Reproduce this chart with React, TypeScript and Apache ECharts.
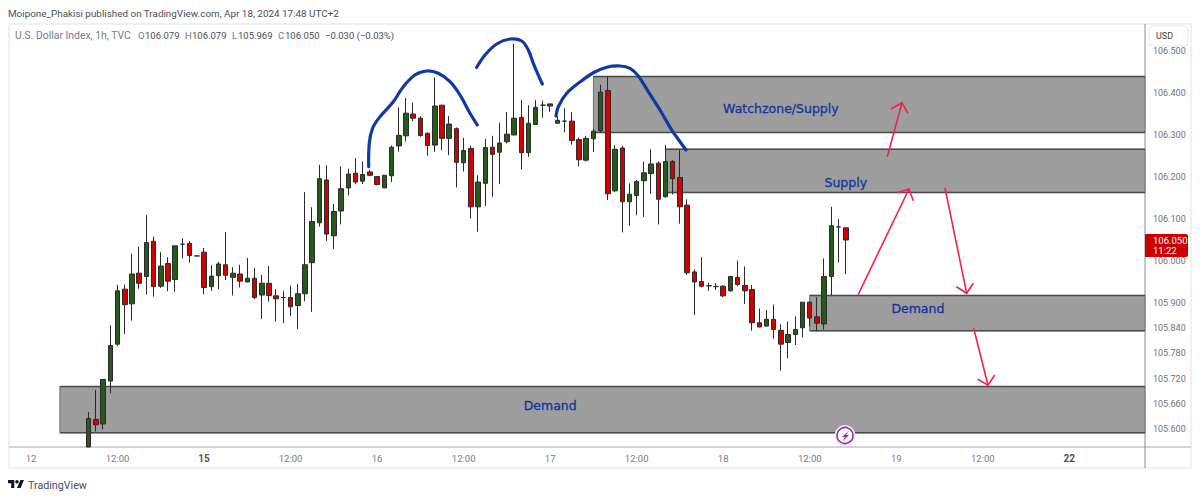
import React, { useEffect, useRef } from "react";
import * as echarts from "echarts";

const UI_FONT = "Roboto, sans-serif";
const NOTE_FONT = "'DejaVu Sans', sans-serif";

// Hourly bars, oldest first. The first bar sits at category index firstBarIndex.
const firstBarIndex = 11;
const opens = [
  105.557,105.623,105.612,105.714,105.802,105.933,105.898,105.971,105.963,106.047,
  105.940,105.994,105.956,106.040,106.042,106.012,106.021,105.939,105.965,105.991,
  105.961,105.969,105.950,105.959,105.919,105.947,105.917,105.913,105.913,105.894,
  105.922,105.996,106.091,106.193,106.060,106.119,106.174,106.209,106.190,106.212,
  106.201,106.174,106.203,106.274,106.298,106.350,106.340,106.304,106.276,106.371,
  106.292,106.315,106.234,106.268,106.129,106.185,106.271,106.259,106.284,106.300,
  106.342,106.258,106.325,106.371,106.369,106.328,106.333,106.333,106.289,106.240,
  106.291,106.310,106.406,106.167,106.269,106.141,106.156,106.191,106.208,106.233,
  106.153,106.237,106.199,106.133,105.974,105.951,105.941,105.939,105.940,105.929,
  105.961,105.942,105.932,105.853,105.845,105.861,105.835,105.806,105.825,105.841,
  105.902,105.867,105.850,105.963,106.081,106.079,
];
const closes = [
  105.625,105.610,105.718,105.799,105.929,105.896,105.969,105.947,106.044,105.939,
  105.988,105.952,106.036,106.040,106.013,106.012,105.937,105.964,105.993,105.966,
  105.971,105.952,105.959,105.913,105.947,105.918,105.910,105.913,105.891,105.922,
  105.991,106.094,106.196,106.064,106.118,106.172,106.207,106.188,106.206,106.204,
  106.182,106.204,106.271,106.299,106.352,106.340,106.299,106.275,106.369,106.292,
  106.326,106.235,106.263,106.129,106.188,106.270,106.254,106.281,106.302,106.340,
  106.258,106.328,106.366,106.371,106.374,106.335,106.333,106.287,106.241,106.292,
  106.309,106.402,106.160,106.266,106.141,106.159,106.189,106.210,106.231,106.147,
  106.237,106.196,106.129,105.972,105.950,105.940,105.941,105.939,105.917,105.963,
  105.944,105.929,105.853,105.843,105.861,105.837,105.802,105.825,105.837,105.902,
  105.864,105.852,105.963,106.084,106.081,106.050,
];
const lows = [
  105.557,105.594,105.599,105.685,105.798,105.826,105.858,105.934,105.920,105.915,
  105.936,105.928,105.927,106.006,105.996,106.012,105.921,105.929,105.933,105.955,
  105.918,105.937,105.950,105.909,105.862,105.903,105.856,105.852,105.869,105.838,
  105.904,105.879,106.082,106.048,106.029,106.087,106.156,106.183,106.183,106.202,
  106.180,106.174,106.188,106.260,106.285,106.333,106.296,106.251,106.260,106.264,
  106.252,106.175,106.213,106.101,106.070,106.131,106.153,106.183,106.280,106.300,
  106.218,106.248,106.325,106.341,106.355,106.328,106.306,106.277,106.225,106.237,
  106.260,106.306,106.145,106.164,106.068,106.084,106.109,106.105,106.160,106.087,
  106.151,106.158,106.089,105.967,105.871,105.937,105.929,105.931,105.914,105.927,
  105.940,105.898,105.834,105.842,105.844,105.815,105.739,105.768,105.800,105.818,
  105.844,105.833,105.837,105.919,105.996,105.969,
];
const highs = [
  105.640,105.693,105.718,105.847,105.943,105.944,106.017,106.034,106.109,106.058,
  106.021,106.009,106.036,106.054,106.047,106.012,106.031,105.990,105.998,106.069,
  105.985,105.991,106.007,105.983,105.967,105.988,105.933,105.928,105.941,105.945,
  106.164,106.128,106.229,106.228,106.136,106.225,106.220,106.245,106.237,106.217,
  106.202,106.204,106.275,106.366,106.388,106.377,106.345,106.306,106.437,106.371,
  106.345,106.318,106.293,106.275,106.204,106.291,106.298,106.329,106.355,106.517,
  106.383,106.371,106.383,106.382,106.374,106.345,106.364,106.354,106.294,106.298,
  106.315,106.420,106.439,106.276,106.274,106.185,106.193,106.237,106.266,106.237,
  106.276,106.240,106.264,106.147,105.980,106.009,105.948,105.947,105.942,105.963,
  106.001,105.987,105.943,105.887,105.883,105.896,105.849,105.856,105.868,105.902,
  105.903,105.914,106.006,106.129,106.100,106.079,
];

// Zones: category index of the left edge, top price, bottom price.
const zoneStarts = [81, 91, 111, 7];
const zoneTops = [106.439, 106.266, 105.918, 105.701];
const zoneBottoms = [106.306, 106.163, 105.834, 105.591];

const noteTexts = ["Watchzone/Supply", "Supply", "Demand", "Demand"];
const noteIndexes = [107, 116, 126, 75];
const notePrices = [106.364, 106.188, 105.886, 105.655];

const CATEGORY_COUNT = 158;
const firstTickIndex = 3;
const tickStep = 12;
const timeTicks = ["12", "12:00", "15", "12:00", "16", "12:00", "17", "12:00", "18", "12:00", "19", "12:00", "22"];
const boldTicks = ["15", "22"];
const priceTicks = [105.6, 105.66, 105.72, 105.78, 105.84, 105.9, 106.0, 106.1, 106.2, 106.3, 106.4, 106.5];
const PRICE_MIN = 105.5571;
const PRICE_MAX = 106.5643;

const categories: string[] = Array.from({ length: CATEGORY_COUNT }, (_, k) => {
  const n = (k - firstTickIndex) / tickStep;
  return Number.isInteger(n) && n >= 0 && n < timeTicks.length ? timeTicks[n] : "";
});

const barData: any[] = categories.map((_, k) => {
  const i = k - firstBarIndex;
  return i >= 0 && i < opens.length ? [opens[i], closes[i], lows[i], highs[i]] : "-";
});

// Hand-drawn annotations, traced in page pixels.
const blueCurves: number[][][] = [
  [[368.7,166.7],[369.3,143],[372.7,128],[380,116.7],[393.3,101.7],[403.3,86.7],[415,75],[426.7,71],[438.3,73.3],[450,81.7],[460,95],[470,113.3],[477.3,125]],
  [[476.7,67.3],[485,55],[496.7,44],[510,39],[521.7,41],[528.3,50],[533.3,63.3],[542.3,84]],
  [[556,116],[558.3,106.7],[566.7,93.3],[580,82],[593,73],[606.7,67.3],[620,66],[630,68.3],[638.3,76],[648.3,91.7],[660,110],[671.7,130],[680,141.7],[686,150]],
];
const redArrows: number[][][] = [
  [[887.3,156.7],[902,102.7]],
  [[858.3,294.3],[909,189]],
  [[945,188],[966.7,293.3]],
  [[973.7,328.3],[988,385.3]],
];
const redHeads: number[][][] = [
  [[891,109],[902,102.7],[908,113.3]],
  [[897.3,192.7],[909,189],[913.3,200.7]],
  [[956.3,286.7],[966.7,293.3],[973.3,283.3]],
  [[977.7,379.3],[988,385.3],[994.7,375]],
];
const boltPoints = [[848.5,431],[842,437],[845,437],[842.5,441.5],[849,435],[846,435]];

echarts.graphic.registerShape(
  "tvLogo",
  echarts.graphic.extendPath("M14 22H7V11H0V4h14v18zM28 22h-8l7.5-18h8L28 22z", {}) as any
);

function buildOption(): any {
  const text = (x: number, y: number, t: string, fill: string, size: number, extra: any = {}) => ({
    type: "text",
    x,
    y,
    z: 20,
    style: { text: t, fill, font: `${size}px ${UI_FONT}`, textVerticalAlign: "middle", ...extra },
  });
  const G = "#787b86";
  const D = "#4a4d57";
  const legend: [number, string, string, number][] = [
    [15, "U.S. Dollar Index, 1h, TVC", G, 10.4],
    [138, "O", G, 9.5], [145, "106.079", D, 9.5],
    [185, "H", G, 9.5], [192, "106.079", D, 9.5],
    [232, "L", G, 9.5], [238, "105.969", D, 9.5],
    [278, "C", G, 9.5], [285, "106.050", D, 9.5],
    [325, "−0.030 (−0.03%)", D, 9.5],
  ];
  return {
    animation: false,
    backgroundColor: "#ffffff",
    grid: { left: 5.8, top: 24, width: 1139.2, height: 423, containLabel: false },
    xAxis: {
      type: "category",
      data: categories,
      boundaryGap: true,
      axisLine: { show: false },
      axisTick: { show: false },
      splitLine: { show: false },
      axisLabel: {
        interval: 0,
        margin: 6,
        fontFamily: UI_FONT,
        fontSize: 9.5,
        color: G,
        formatter: (v: string) => (boldTicks.includes(v) ? `{b|${v}}` : v),
        rich: { b: { fontFamily: UI_FONT, fontSize: 10, fontWeight: "bold", color: "#50535e" } },
      },
    },
    yAxis: {
      type: "value",
      position: "right",
      min: PRICE_MIN,
      max: PRICE_MAX,
      axisLine: { show: false },
      axisTick: { show: false },
      splitLine: { show: false },
      axisLabel: {
        customValues: priceTicks,
        margin: 8,
        fontFamily: UI_FONT,
        fontSize: 9,
        color: "#6f727d",
        formatter: (v: number) => v.toFixed(3),
      },
    },
    series: [
      {
        type: "custom",
        z: 1,
        silent: true,
        encode: { x: 0, y: [1, 2] },
        data: zoneStarts.map((k, i) => [k, zoneTops[i], zoneBottoms[i]]),
        renderItem: (params: any, api: any) => {
          const [x, yTop] = api.coord([api.value(0), api.value(1)]);
          const [, yBot] = api.coord([api.value(0), api.value(2)]);
          const right = params.coordSys.x + params.coordSys.width;
          return {
            type: "group",
            children: [
              { type: "rect", shape: { x, y: yTop, width: right - x, height: yBot - yTop }, style: { fill: "#9e9e9e", stroke: "#707070", lineWidth: 1 } },
              { type: "line", shape: { x1: x, y1: yTop, x2: right, y2: yTop }, style: { stroke: "#4a4a4a", lineWidth: 1.5 } },
              { type: "line", shape: { x1: x, y1: yBot, x2: right, y2: yBot }, style: { stroke: "#4a4a4a", lineWidth: 1.5 } },
            ],
          };
        },
      },
      {
        type: "candlestick",
        z: 2,
        barWidth: 5,
        data: barData,
        itemStyle: {
          color: "#26591a",
          color0: "#d40000",
          borderColor: "#2a2a2a",
          borderColor0: "#2a2a2a",
          borderColorDoji: "#2a2a2a",
          borderWidth: 1,
        },
      },
      {
        type: "custom",
        z: 3,
        silent: true,
        encode: { x: 0, y: 1 },
        data: noteIndexes.map((k, i) => [k, notePrices[i]]),
        renderItem: (params: any, api: any) => {
          const [x, y] = api.coord([api.value(0), api.value(1)]);
          return {
            type: "text",
            x,
            y,
            style: {
              text: noteTexts[params.dataIndex],
              fill: "#14349a",
              stroke: "#14349a",
              lineWidth: 0.3,
              font: `12.5px ${NOTE_FONT}`,
              textAlign: "center",
              textVerticalAlign: "middle",
            },
          };
        },
      },
    ],
    graphic: [
      { type: "rect", z: -1, shape: { x: 9, y: 24, width: 1182, height: 444 }, style: { fill: "#ffffff", stroke: "#eef0f5", lineWidth: 2 } },
      { type: "line", z: 1, shape: { x1: 9, y1: 447, x2: 1191, y2: 447 }, style: { stroke: "#c4c6cc", lineWidth: 1.5 } },
      { type: "line", z: 1, shape: { x1: 1145, y1: 24, x2: 1145, y2: 468 }, style: { stroke: "#8a8d95", lineWidth: 1 } },
      ...blueCurves.map((pts) => ({
        type: "polyline",
        z: 10,
        shape: { points: pts, smooth: 0.35 },
        style: { fill: "none", stroke: "#0f3aa3", lineWidth: 3.2, lineCap: "round", lineJoin: "round" },
      })),
      ...redArrows.map((pts) => ({
        type: "polyline",
        z: 11,
        shape: { points: pts },
        style: { fill: "none", stroke: "#f2234b", lineWidth: 1.6 },
      })),
      ...redHeads.map((pts) => ({
        type: "polyline",
        z: 11,
        shape: { points: pts },
        style: { fill: "none", stroke: "#f2234b", lineWidth: 1.6 },
      })),
      { type: "circle", z: 12, shape: { cx: 845, cy: 435.5, r: 10 }, style: { fill: "#ffffff", stroke: "#e4e5ea", lineWidth: 1 } },
      { type: "circle", z: 13, shape: { cx: 845, cy: 435.5, r: 8 }, style: { fill: "#ffffff", stroke: "#9c27b0", lineWidth: 1.6 } },
      { type: "polygon", z: 14, shape: { points: boltPoints }, style: { fill: "#9c27b0" } },
      { type: "rect", z: 15, shape: { x: 1145, y: 234, width: 43, height: 23, r: [0, 2, 2, 0] }, style: { fill: "#cc0000" } },
      text(1153, 240, "106.050", "#ffffff", 9.5),
      text(1153, 250.5, "11:22", "#ffffff", 9.5),
      { type: "rect", z: 15, shape: { x: 1149, y: 26, width: 39, height: 20, r: 4 }, style: { fill: "#ffffff", stroke: "#e6e8ee", lineWidth: 1 } },
      text(1156, 36, "USD", "#3c3f49", 9),
      text(8, 13, "Moipone_Phakisi published on TradingView.com, Apr 18, 2024 17:48 UTC+2", "#4a4d57", 9.9),
      ...legend.map(([x, t, c, s]) => text(x, 35, t, c, s)),
      { type: "tvLogo", z: 20, x: 8, y: 478.2, scaleX: 0.45, scaleY: 0.45, style: { fill: "#131722" } },
      { type: "circle", z: 20, shape: { cx: 17, cy: 481.8, r: 1.8 }, style: { fill: "#131722" } },
      text(28, 485, "TradingView", "#4a4d57", 10.7),
    ],
  };
}

export default function App() {
  const ref = useRef<HTMLDivElement>(null);
  useEffect(() => {
    document.body.style.margin = "0";
    const chart = echarts.init(ref.current!, null, { renderer: "svg" });
    chart.setOption(buildOption());
    return () => chart.dispose();
  }, []);
  return <div ref={ref} style={{ width: 1200, height: 499, background: "#fff" }} />;
}
